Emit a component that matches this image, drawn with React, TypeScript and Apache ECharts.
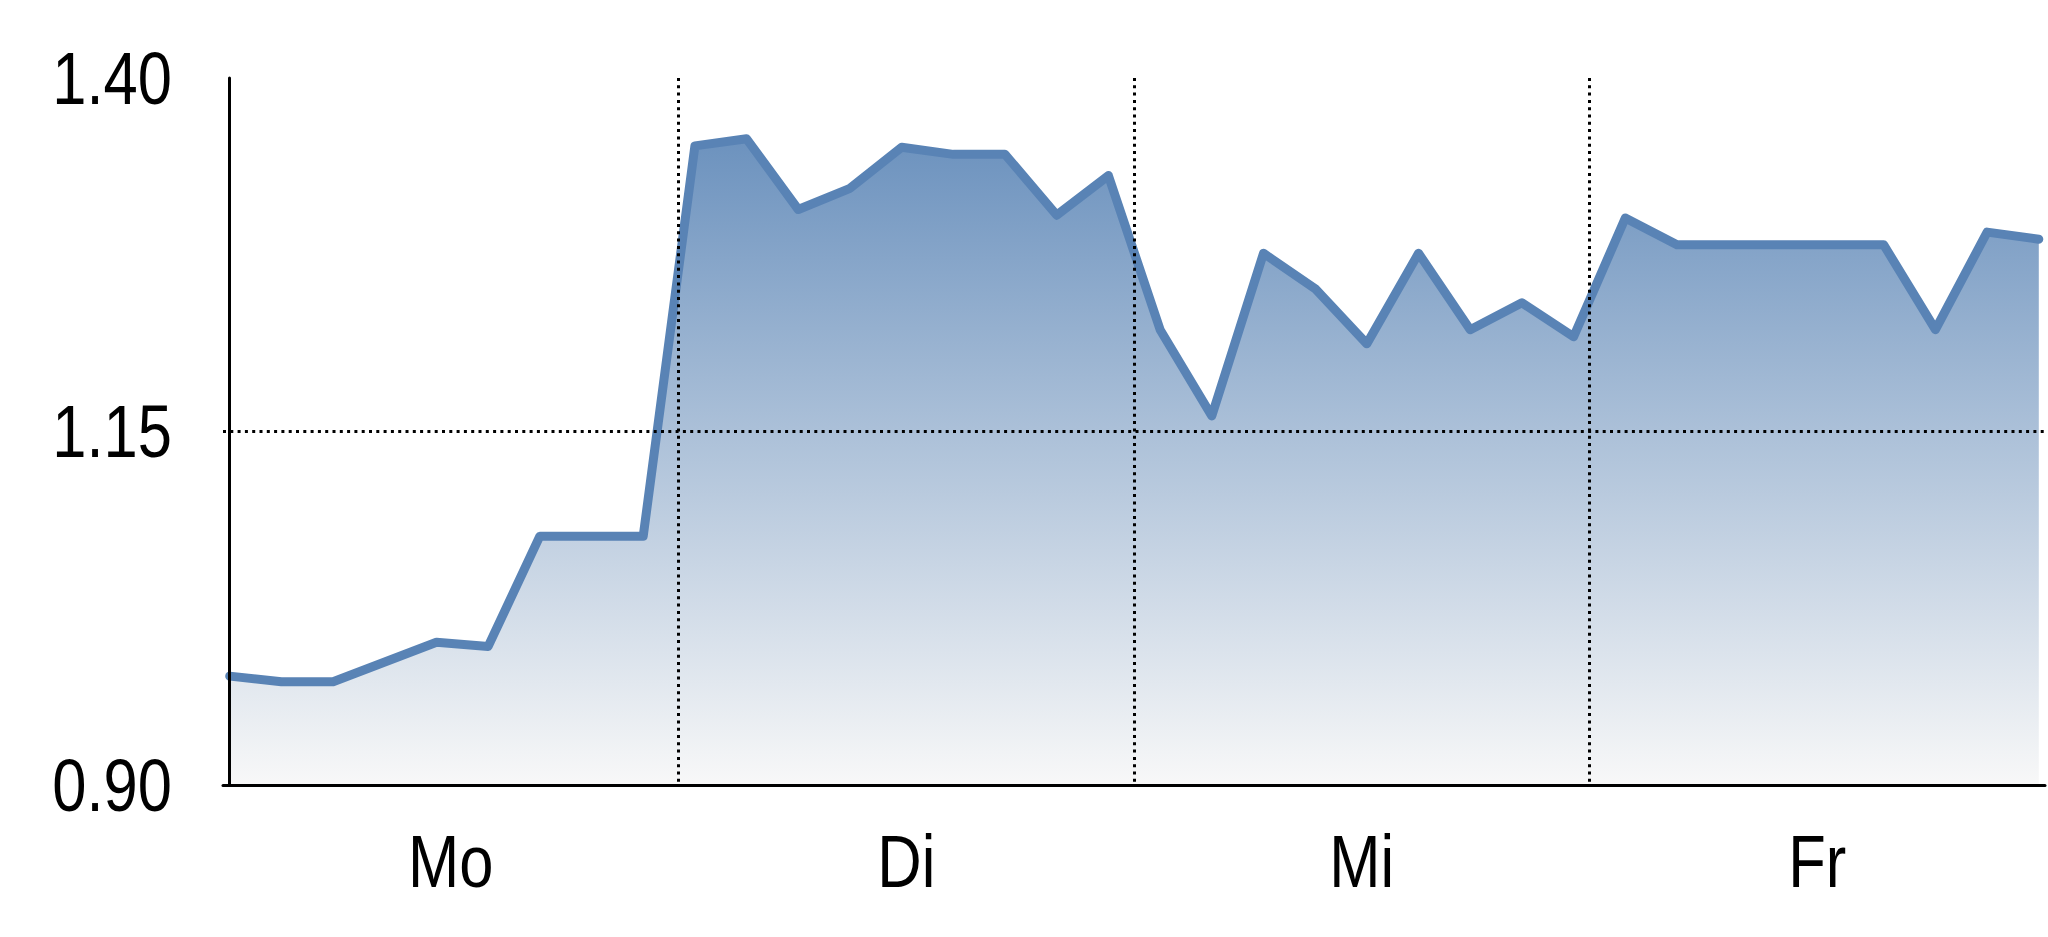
import {useEffect, useRef} from "react";
import * as echarts from "echarts";

const days = ["Mo", "Di", "Mi", "Fr"];
const yTicks = [0.9, 1.15, 1.4];
const values = [
    0.977, 0.973, 0.973, 0.987, 1.001, 0.998, 1.076, 1.076, 1.076,
    1.352, 1.357, 1.307, 1.322, 1.351, 1.346, 1.346, 1.303, 1.331,
    1.222, 1.161, 1.276, 1.251, 1.212, 1.276, 1.222, 1.241, 1.217,
    1.301, 1.282, 1.282, 1.282, 1.282, 1.282, 1.222, 1.291, 1.286,
];

// narrow helvetica look: liberation sans squeezed horizontally
const FONT = "'Liberation Sans', Arial, sans-serif";
const FONT_SIZE = 75;
const SQUEEZE = 0.82;
const GRID_LEFT = 223;
const dotted = {color: "#000", width: 3, type: [3, 4.3] as number[]};

function label(text: string, x: number, y: number, align: string) {
    return {
        type: "text",
        x, y,
        scaleX: SQUEEZE,
        silent: true,
        style: {text, fill: "#000", fontSize: FONT_SIZE, fontFamily: FONT, align, verticalAlign: "middle"},
    };
}

export default function App() {
    const domRef = useRef<HTMLDivElement>(null);

    useEffect(() => {
        if (!domRef.current) return;
        const chart = echarts.init(domRef.current, undefined, {renderer: "svg"});
        chart.setOption({
            animation: false,
            backgroundColor: "#fff",
            grid: {left: GRID_LEFT, right: 3, top: 78, bottom: 152},
            xAxis: [
                {
                    type: "category",
                    data: days,
                    boundaryGap: true,
                    axisLine: {show: true, lineStyle: {color: "#000", width: 3}},
                    axisTick: {show: false},
                    axisLabel: {show: false},
                    splitLine: {show: true, showMinLine: false, showMaxLine: false, lineStyle: dotted},
                },
                {type: "value", show: false, min: -0.13, max: 35.12},
            ],
            yAxis: {
                type: "value",
                min: yTicks[0],
                max: yTicks[yTicks.length - 1],
                interval: yTicks[1] - yTicks[0],
                axisLine: {show: true, lineStyle: {color: "#000", width: 3}},
                axisTick: {show: false},
                axisLabel: {show: false},
                splitLine: {show: true, showMinLine: false, showMaxLine: false, lineStyle: dotted},
            },
            series: [{
                type: "line",
                xAxisIndex: 1,
                data: values.map((v, i) => [i, v]),
                symbol: "none",
                lineStyle: {color: "#5983b5", width: 9, cap: "round", join: "round"},
                areaStyle: {
                    origin: "start",
                    opacity: 1,
                    color: new echarts.graphic.LinearGradient(0, 0, 0, 1, [
                        {offset: 0, color: "rgb(108,146,190)"},
                        {offset: 1, color: "rgb(248,248,248)"},
                    ]),
                },
                // keep the dotted grid drawn over the filled area
                z: -1,
            }],
        });

        // tick labels placed from the axes' own scales
        const baseY = chart.convertToPixel({yAxisIndex: 0}, yTicks[0]) as number;
        const texts = [
            ...yTicks.map(v => label(v.toFixed(2), GRID_LEFT - 51, chart.convertToPixel({yAxisIndex: 0}, v) as number, "right")),
            ...days.map(d => label(d, chart.convertToPixel({xAxisIndex: 0}, d) as number, baseY + 76, "center")),
        ];
        chart.setOption({graphic: texts});

        return () => chart.dispose();
    }, []);

    return <div ref={domRef} style={{position: "absolute", left: 0, top: 0, width: 2048, height: 937}} />;
}
